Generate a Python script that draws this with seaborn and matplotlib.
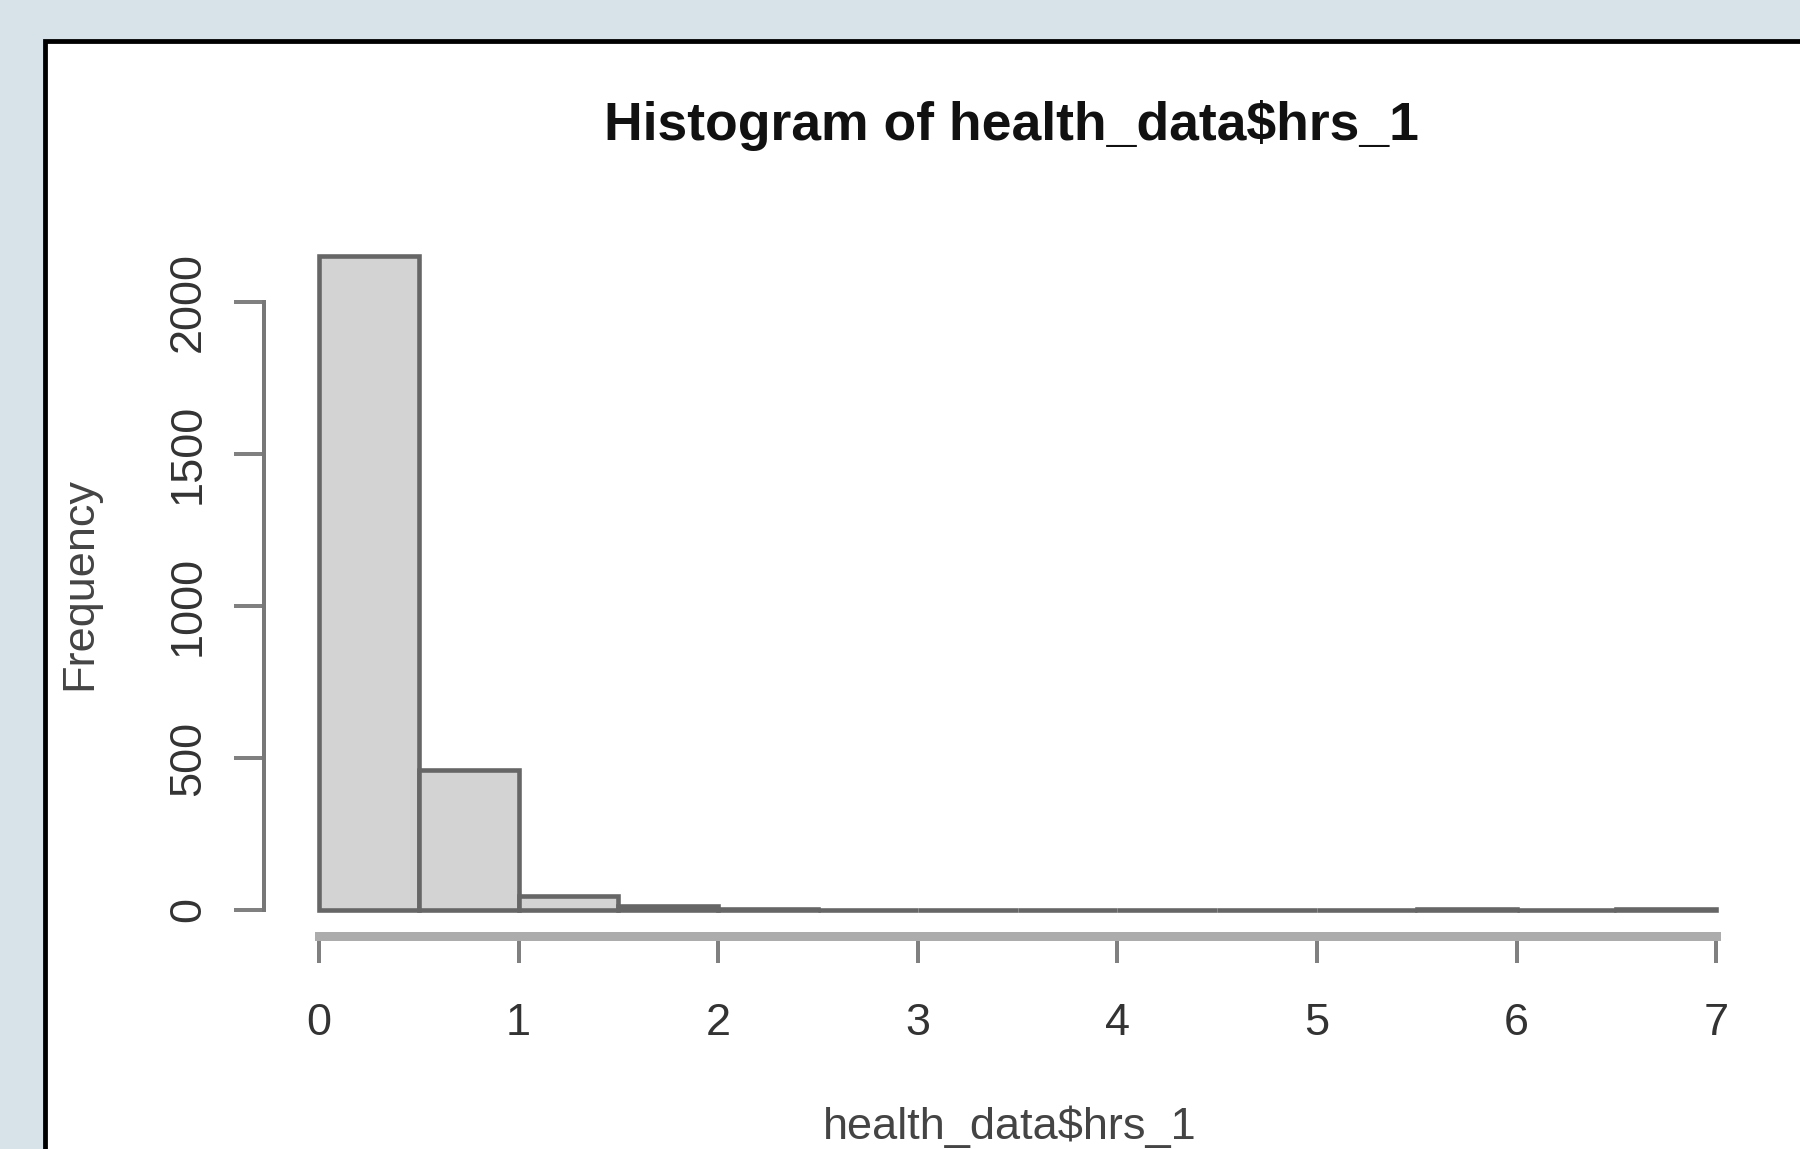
import matplotlib
matplotlib.use("Agg")
import matplotlib.pyplot as plt
import pandas as pd
import seaborn as sns
from matplotlib.patches import Rectangle

# Histogram bins (hours) and the number of records falling in each bin
bin_edges = [0.0, 0.5, 1.0, 1.5, 2.0, 2.5, 3.0, 3.5, 4.0, 4.5, 5.0, 5.5, 6.0, 6.5, 7.0]
bin_counts = [2150, 460, 46, 12, 3, 1, 1, 1, 1, 0, 1, 2, 1, 2]
x_ticks = [0, 1, 2, 3, 4, 5, 6, 7]
y_ticks = [0, 500, 1000, 1500, 2000]

title_text = "Histogram of health_data$hrs_1"
x_label = "health_data$hrs_1"
y_label = "Frequency"

# ---- canvas geometry (pixels) ----
W, H, DPI = 1800, 1149, 100
PT = DPI / 72.0  # pixels per point


def fx(px):
    return px / W


def fy(py):
    return 1 - py / H


X0_PX, X_UNIT = 319.0, 199.6      # pixel of x=0 and pixels per hour
Y0_PX, Y_UNIT = 910.0, 0.304      # pixel of count=0 and pixels per count
AX_L, AX_R, AX_T, AX_B = 264.0, 1740.0, 215.0, 936.0

sns.set_theme(style="white")
plt.rcParams["font.family"] = ["Liberation Sans", "DejaVu Sans"]

fig = plt.figure(figsize=(W / DPI, H / DPI), dpi=DPI, facecolor="#d8e3e9")

# white device panel with a black frame on its left and top
panel = Rectangle((fx(45), -0.2), 1.5, fy(40.5) + 0.2, transform=fig.transFigure,
                  facecolor="white", edgecolor="black", linewidth=4.8 / PT, zorder=-5)
fig.add_artist(panel)

ax = fig.add_axes([fx(AX_L), fy(AX_B), (AX_R - AX_L) / W, (AX_B - AX_T) / H])
ax.set_facecolor("none")

mids = [(a + b) / 2 for a, b in zip(bin_edges[:-1], bin_edges[1:])]
df = pd.DataFrame({"hrs": mids, "n": bin_counts})
sns.histplot(data=df, x="hrs", weights="n", bins=bin_edges, stat="count",
             color="#d3d3d3", edgecolor="#666666", linewidth=3.3, alpha=1, ax=ax)

ax.set_xlim((AX_L - X0_PX) / X_UNIT, (AX_R - X0_PX) / X_UNIT)
ax.set_ylim((Y0_PX - AX_B) / Y_UNIT, (Y0_PX - AX_T) / Y_UNIT)

for s in ("top", "right"):
    ax.spines[s].set_visible(False)
ax.spines["left"].set_bounds(y_ticks[0], y_ticks[-1])
ax.spines["left"].set_color("#777777")
ax.spines["left"].set_linewidth(4 / PT)
ax.spines["bottom"].set_bounds(x_ticks[0], x_ticks[-1])
ax.spines["bottom"].set_color("#acacac")
ax.spines["bottom"].set_linewidth(9 / PT)

ax.set_xticks(x_ticks)
ax.set_xticklabels([str(t) for t in x_ticks])
ax.set_yticks(y_ticks)
ax.set_yticklabels([str(t) for t in y_ticks])

ax.tick_params(axis="x", direction="out", length=27 / PT, width=4 / PT, color="#808080",
               pad=40 / PT, labelsize=32.5, labelcolor="#333333", bottom=True)
ax.tick_params(axis="y", direction="out", length=30 / PT, width=4 / PT, color="#808080",
               pad=25 / PT, labelsize=32.5, labelcolor="#333333", labelrotation=90, left=True)
for lab in ax.get_yticklabels():
    lab.set_va("center")

ax.set_xlabel(x_label, fontsize=32.5, color="#444444", va="baseline", ha="center")
ax.xaxis.set_label_coords(fx(1010), fy(1139), transform=fig.transFigure)
ax.set_ylabel(y_label, fontsize=32.5, color="#444444")
ax.yaxis.set_label_coords(fx(100.5), fy(583), transform=fig.transFigure)

fig.text(fx(1011), fy(140), title_text, ha="center", va="baseline",
         fontsize=38.5, fontweight="bold", color="#111111")

fig.savefig("out.png", dpi=DPI, facecolor=fig.get_facecolor())
